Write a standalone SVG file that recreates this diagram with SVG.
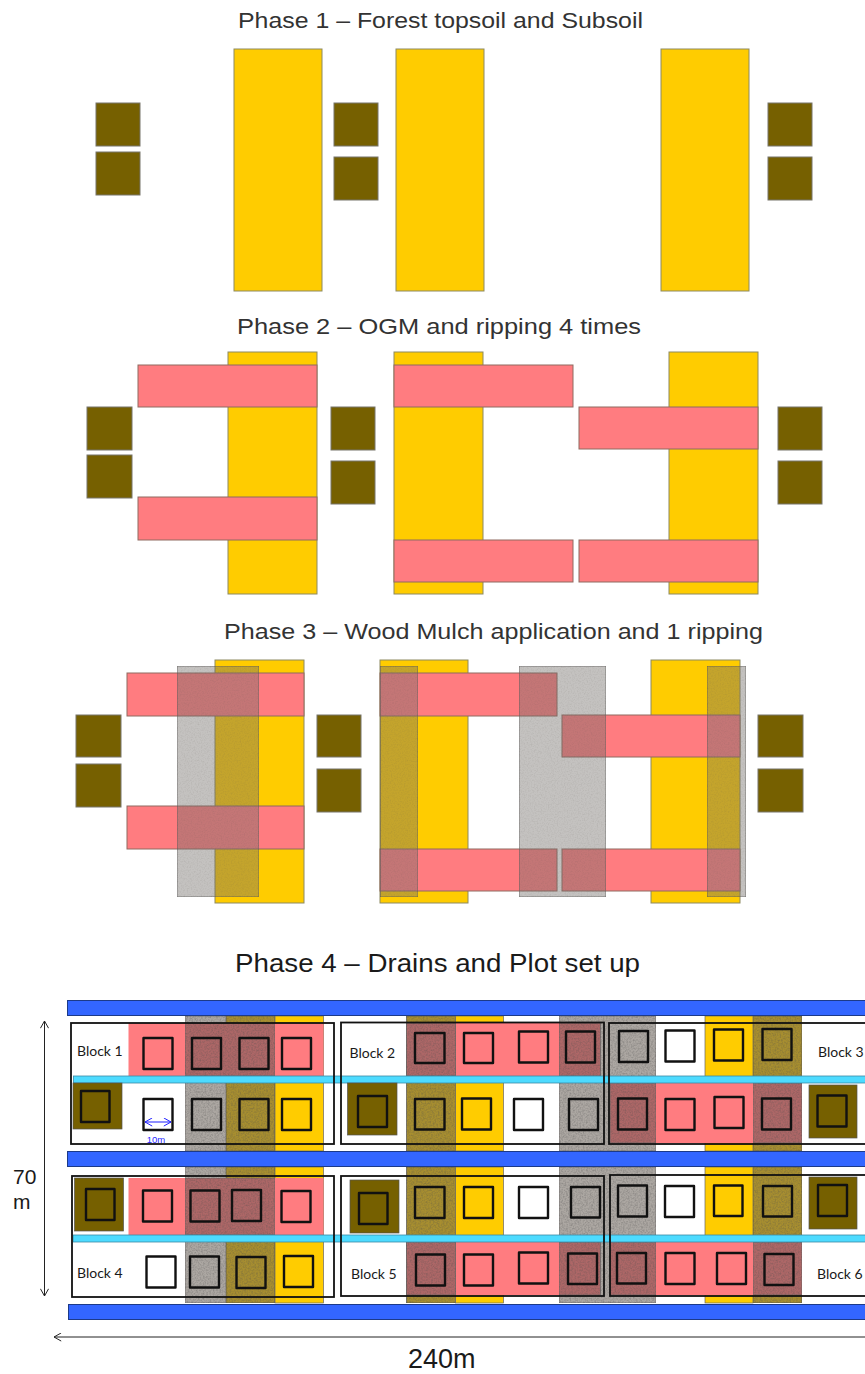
<svg xmlns="http://www.w3.org/2000/svg" width="865" height="1374" viewBox="0 0 865 1374">
<style>
text{font-family:"Liberation Sans",Arial,sans-serif;fill:#1a1a1a}
.t{font-size:22.500px;fill:#333}
.y{fill:#ffcc00;stroke:#8d8a60;stroke-width:1}
.p{fill:#ff7c80;stroke:#8f6a60;stroke-width:1}
.b{fill:#766000;stroke:#77756a;stroke-width:1}
.g{fill:#726e6a;fill-opacity:.42;stroke:#555;stroke-opacity:.7;stroke-width:1;filter:url(#grain2)}
.by{fill:#ffcc00;stroke:#666;stroke-width:.7}
.bp{fill:#ff7c80;stroke:none}
.bg{fill:#aca7a2;stroke:#666;stroke-width:.7;filter:url(#grain)}
.bo{fill:#a78e30;stroke:#555;stroke-width:.7;filter:url(#grain)}
.bd{fill:#ad6767;stroke:#666;stroke-width:.7;filter:url(#grain)}
.drain{fill:#3366ff;stroke:#1c3a88;stroke-width:1}
.cy{fill:#4ddbff;stroke:#3a8aa5;stroke-width:.8}
.blk{fill:none;stroke:#111;stroke-width:1.8}
.sq{fill:none;stroke:#111;stroke-width:2.4;stroke-linejoin:round}
.br{fill:#766000;stroke:#555;stroke-width:.7}
.lb{font-family:Lato,"Open Sans",sans-serif;font-size:14px}
.dim{fill:none;stroke:#222;stroke-width:1;marker-start:url(#v);marker-end:url(#v)}
</style>
<defs>
<filter id="grain" x="0" y="0" width="100%" height="100%" color-interpolation-filters="sRGB">
<feTurbulence type="fractalNoise" baseFrequency="0.6" numOctaves="2" seed="4" result="n"/>
<feColorMatrix in="n" type="matrix" values="0 0 0 0 0.3 0 0 0 0 0.3 0 0 0 0 0.3 0.7 0 0 0 -0.27" result="d"/>
<feComposite in="d" in2="SourceGraphic" operator="in" result="c"/>
<feMerge><feMergeNode in="SourceGraphic"/><feMergeNode in="c"/></feMerge>
</filter>
<filter id="grain2" x="0" y="0" width="100%" height="100%" color-interpolation-filters="sRGB">
<feTurbulence type="fractalNoise" baseFrequency="0.7" numOctaves="2" seed="9" result="n"/>
<feColorMatrix in="n" type="matrix" values="0 0 0 0 0.35 0 0 0 0 0.33 0 0 0 0 0.3 0.6 0 0 0 -0.25" result="d"/>
<feComposite in="d" in2="SourceGraphic" operator="in" result="c"/>
<feMerge><feMergeNode in="SourceGraphic"/><feMergeNode in="c"/></feMerge>
</filter>
<marker id="v" viewBox="0 0 10 10" refX="9" refY="5" markerWidth="9" markerHeight="9" markerUnits="userSpaceOnUse" orient="auto-start-reverse"><path d="M1 0.5L9 5L1 9.5" fill="none" stroke="#222" stroke-width="1.100"/></marker>
<marker id="vb" viewBox="0 0 10 10" refX="9" refY="5" markerWidth="9" markerHeight="9" markerUnits="userSpaceOnUse" orient="auto-start-reverse"><path d="M1 0.5L9 5L1 9.5" fill="none" stroke="#1f1fff" stroke-width="1.100"/></marker>
</defs>
<rect width="865" height="1374" fill="#fff"/>

<g id="phase1">
<text class="t" x="238" y="28" textLength="405" lengthAdjust="spacingAndGlyphs">Phase 1 – Forest topsoil and Subsoil</text>
<rect class="y" x="234" y="49" width="88" height="242"/>
<rect class="y" x="396" y="49" width="88" height="242"/>
<rect class="y" x="661" y="49" width="88" height="242"/>
<rect class="b" x="96" y="103" width="44" height="43"/>
<rect class="b" x="96" y="152" width="44" height="43"/>
<rect class="b" x="334" y="103" width="44" height="43"/>
<rect class="b" x="334" y="157" width="44" height="43"/>
<rect class="b" x="768" y="103" width="44" height="43"/>
<rect class="b" x="768" y="157" width="44" height="43"/>
</g>

<g id="phase2">
<text class="t" x="237" y="334" textLength="404" lengthAdjust="spacingAndGlyphs">Phase 2 – OGM and ripping 4 times</text>
<rect class="y" x="228" y="352" width="89" height="242"/>
<rect class="y" x="394" y="352" width="89" height="242"/>
<rect class="y" x="669" y="352" width="89" height="242"/>
<rect class="p" x="138" y="365" width="179" height="42"/>
<rect class="p" x="138" y="497" width="179" height="43"/>
<rect class="p" x="394" y="365" width="179" height="42"/>
<rect class="p" x="579" y="407" width="179" height="42"/>
<rect class="p" x="394" y="540" width="179" height="42"/>
<rect class="p" x="579" y="540" width="179" height="42"/>
<rect class="b" x="87" y="407" width="45" height="43"/>
<rect class="b" x="87" y="455" width="45" height="43"/>
<rect class="b" x="331" y="407" width="44" height="43"/>
<rect class="b" x="331" y="461" width="44" height="43"/>
<rect class="b" x="778" y="407" width="44" height="43"/>
<rect class="b" x="778" y="461" width="44" height="43"/>
</g>

<g id="phase3">
<text class="t" x="224" y="639" textLength="539" lengthAdjust="spacingAndGlyphs">Phase 3 – Wood Mulch application and 1 ripping</text>
<rect class="y" x="215" y="660" width="89" height="243"/>
<rect class="y" x="380" y="660" width="88" height="243"/>
<rect class="y" x="651" y="660" width="89" height="243"/>
<rect class="p" x="127" y="673" width="177" height="43"/>
<rect class="p" x="127" y="806" width="177" height="43"/>
<rect class="p" x="380" y="673" width="177" height="43"/>
<rect class="p" x="562" y="715" width="178" height="42"/>
<rect class="p" x="380" y="849" width="177" height="42"/>
<rect class="p" x="562" y="849" width="178" height="42"/>
<rect class="g" x="177" y="666" width="82" height="231"/>
<rect class="g" x="380" y="666" width="38" height="231"/>
<rect class="g" x="519" y="666" width="87" height="231"/>
<rect class="g" x="707" y="666" width="39" height="231"/>
<rect class="b" x="76" y="715" width="45" height="42"/>
<rect class="b" x="76" y="764" width="45" height="43"/>
<rect class="b" x="317" y="715" width="44" height="42"/>
<rect class="b" x="317" y="769" width="44" height="43"/>
<rect class="b" x="758" y="715" width="45" height="42"/>
<rect class="b" x="758" y="769" width="45" height="43"/>
</g>

<g id="phase4">
<text x="235" y="972" font-size="26" textLength="405" lengthAdjust="spacingAndGlyphs">Phase 4 – Drains and Plot set up</text>
<g id="columns">
<rect class="bg" x="185" y="1016" width="41" height="135"/><rect class="bo" x="226" y="1016" width="49" height="135"/><rect class="by" x="275" y="1016" width="48.500" height="135"/>
<rect class="bg" x="185" y="1167" width="41" height="136"/><rect class="bo" x="226" y="1167" width="49" height="136"/><rect class="by" x="275" y="1167" width="48.500" height="136"/>
<rect class="bo" x="406.500" y="1016" width="49" height="135"/><rect class="by" x="455.500" y="1016" width="48" height="135"/><rect class="bg" x="559" y="1016" width="97" height="135"/><rect class="by" x="705" y="1016" width="48" height="135"/><rect class="bo" x="753" y="1016" width="49" height="135"/>
<rect class="bo" x="406.500" y="1167" width="49" height="136"/><rect class="by" x="455.500" y="1167" width="48" height="136"/><rect class="bg" x="559" y="1167" width="97" height="136"/><rect class="by" x="705" y="1167" width="48" height="136"/><rect class="bo" x="753" y="1167" width="49" height="136"/>
</g>
<g id="ripped">
<rect class="bp" x="128.500" y="1023" width="195" height="53"/><rect class="bd" x="185" y="1023" width="90" height="53"/>
<rect class="bp" x="455.500" y="1023" width="104" height="53"/><rect class="bd" x="406.500" y="1023" width="49" height="53"/><rect class="bd" x="559" y="1023" width="41.500" height="53"/>
<rect class="bp" x="656" y="1083" width="97" height="60"/><rect class="bd" x="610" y="1083" width="46" height="60"/><rect class="bd" x="753" y="1083" width="49" height="60"/>
<rect class="bp" x="128.500" y="1178" width="195" height="57"/><rect class="bd" x="185" y="1178" width="90" height="57"/>
<rect class="bp" x="455.500" y="1242" width="104" height="53"/><rect class="bd" x="406.500" y="1242" width="49" height="53"/><rect class="bd" x="559" y="1242" width="41.500" height="53"/>
<rect class="bp" x="656" y="1242" width="97" height="53"/><rect class="bd" x="610" y="1242" width="46" height="53"/><rect class="bd" x="753" y="1242" width="49" height="53"/>
</g>
<g id="drains">
<rect class="drain" x="67.500" y="1000.500" width="800" height="15"/>
<rect class="drain" x="67.500" y="1151.500" width="800" height="15"/>
<rect class="drain" x="68.500" y="1304.500" width="800" height="15"/>
<rect class="cy" x="73.500" y="1076" width="795" height="7"/>
<rect class="cy" x="73" y="1235" width="795" height="7"/>
</g>
<g id="stockpiles">
<rect class="br" x="73" y="1083" width="49" height="46"/>
<rect class="br" x="347.500" y="1083" width="49.500" height="52"/>
<rect class="br" x="809" y="1085" width="48" height="53"/>
<rect class="br" x="74.500" y="1178" width="49" height="53"/>
<rect class="br" x="350" y="1180" width="49" height="53"/>
<rect class="br" x="809" y="1177" width="48" height="52"/>
</g>
<g id="block1"><rect class="blk" x="71" y="1023" width="263" height="121"/><text class="lb" x="77" y="1056">Block 1</text></g>
<g id="block2"><rect class="blk" x="341" y="1022.500" width="263" height="121.500"/><text class="lb" x="349.500" y="1058">Block 2</text></g>
<g id="block3"><rect class="blk" x="609" y="1023" width="270" height="121"/><text class="lb" x="818" y="1057">Block 3</text></g>
<g id="block4"><rect class="blk" x="72" y="1176" width="262" height="121"/><text class="lb" x="77" y="1278">Block 4</text></g>
<g id="block5"><rect class="blk" x="341" y="1176" width="263" height="120"/><text class="lb" x="351" y="1279">Block 5</text></g>
<g id="block6"><rect class="blk" x="610" y="1175" width="270" height="121"/><text class="lb" x="817" y="1279">Block 6</text></g>
<g id="plots">
<rect class="sq" x="143.500" y="1038" width="29" height="31"/><rect class="sq" x="192" y="1038" width="29" height="31"/><rect class="sq" x="239.500" y="1038" width="29" height="31"/><rect class="sq" x="282" y="1038" width="29" height="31"/>
<rect class="sq" x="415" y="1033" width="29.500" height="30"/><rect class="sq" x="464" y="1033" width="29" height="30"/><rect class="sq" x="519" y="1031.500" width="29" height="31"/><rect class="sq" x="566" y="1031.500" width="29" height="31"/><rect class="sq" x="619" y="1031" width="29" height="31"/><rect class="sq" x="665.500" y="1030.500" width="29" height="31"/><rect class="sq" x="714" y="1029.500" width="29" height="31"/><rect class="sq" x="762.500" y="1029" width="29" height="31"/>
<rect class="sq" x="143.500" y="1099" width="29" height="31"/><rect class="sq" x="192" y="1099" width="29" height="31"/><rect class="sq" x="239.500" y="1099" width="29" height="31"/><rect class="sq" x="282" y="1099" width="29" height="31"/>
<rect class="sq" x="81" y="1091" width="28.500" height="31"/><rect class="sq" x="358" y="1096" width="29" height="31"/><rect class="sq" x="817.500" y="1095.500" width="29" height="31"/>
<rect class="sq" x="415" y="1099" width="29.500" height="30.500"/><rect class="sq" x="462" y="1098.500" width="29" height="31"/><rect class="sq" x="514" y="1099" width="29" height="31"/><rect class="sq" x="569" y="1099" width="29" height="31"/><rect class="sq" x="618" y="1098.500" width="29" height="31"/><rect class="sq" x="665.500" y="1099" width="29" height="31"/><rect class="sq" x="714.500" y="1097" width="29" height="31"/><rect class="sq" x="762" y="1098.500" width="29" height="31"/>
<rect class="sq" x="86" y="1189" width="28.500" height="31"/><rect class="sq" x="143" y="1190.500" width="29" height="31"/><rect class="sq" x="190.500" y="1190.500" width="29" height="31"/><rect class="sq" x="232" y="1190" width="29" height="31"/><rect class="sq" x="281.500" y="1191" width="29" height="31"/>
<rect class="sq" x="359" y="1193" width="28.500" height="31"/><rect class="sq" x="415" y="1187" width="29.500" height="31"/><rect class="sq" x="464" y="1187" width="29" height="31"/><rect class="sq" x="519" y="1187" width="29" height="31"/><rect class="sq" x="571" y="1187" width="29" height="30.500"/><rect class="sq" x="618" y="1185.500" width="29" height="31"/><rect class="sq" x="665" y="1186" width="29" height="31"/><rect class="sq" x="714" y="1185.500" width="28.500" height="30.500"/><rect class="sq" x="763" y="1186" width="29" height="30.500"/><rect class="sq" x="818" y="1185" width="29" height="31"/>
<rect class="sq" x="146.500" y="1256.500" width="29" height="31"/><rect class="sq" x="190" y="1256.500" width="29" height="31"/><rect class="sq" x="236.500" y="1257" width="29" height="31"/><rect class="sq" x="284" y="1256" width="29" height="31"/>
<rect class="sq" x="416" y="1254.500" width="29" height="31"/><rect class="sq" x="464" y="1254.500" width="29" height="31"/><rect class="sq" x="519" y="1252.500" width="29" height="31"/><rect class="sq" x="568" y="1253.500" width="29" height="30.500"/><rect class="sq" x="617" y="1253" width="29" height="30.500"/><rect class="sq" x="665.500" y="1253" width="29" height="31"/><rect class="sq" x="717" y="1253" width="29" height="31"/><rect class="sq" x="764.500" y="1254" width="29" height="31"/>
</g>
<g id="dimensions">
<path d="M145 1122H171" fill="none" stroke="#1f1fff" stroke-width="1" marker-start="url(#vb)" marker-end="url(#vb)"/>
<text x="156" y="1143" font-size="9.500" text-anchor="middle" style="fill:#2a2aff">10m</text>
<path class="dim" d="M44.500 1021V1296"/>
<path class="dim" d="M54 1337H870" style="marker-end:none"/>
<text x="13" y="1184" font-size="21">70</text>
<text x="13" y="1209" font-size="21">m</text>
<text x="408" y="1368" font-size="27">240m</text>
</g>
</g>
</svg>
